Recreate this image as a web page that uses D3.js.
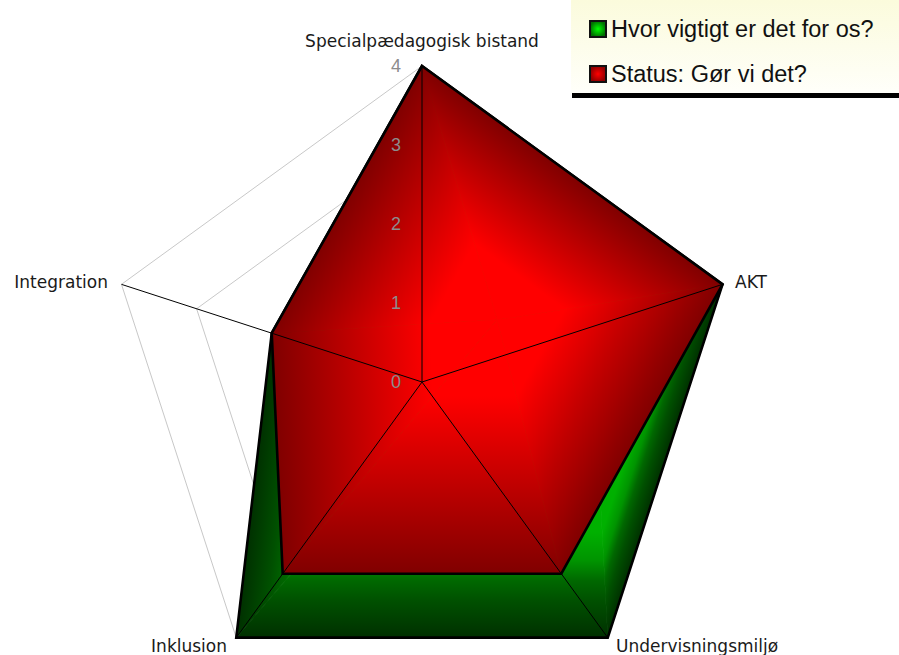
<!DOCTYPE html>
<head>
  <meta charset="utf-8">
  <script src="https://d3js.org/d3.v7.min.js"></script>
  <style>
    body { margin: 0; background: #fff; }
    .axis-label { font-family: Verdana, "DejaVu Sans", sans-serif; font-size: 17px; fill: #1a1a1a; }
    .tick-label { font-family: Arial, "Liberation Sans", sans-serif; font-size: 18px; fill: #8c8c8c; }
    .legend-text { font-family: Arial, "Liberation Sans", sans-serif; font-size: 23.5px; fill: #111; }
  </style>
</head>
<body>
  <svg id="chart"></svg>
  <script>
    var width = 899, height = 655;

    // chart data
    var axes = ["Specialpædagogisk bistand", "AKT", "Undervisningsmiljø", "Inklusion", "Integration"];
    var seriesNames = ["Hvor vigtigt er det for os?", "Status: Gør vi det?"];
    var importanceValues = [4, 4, 4, 4, 2];
    var statusValues = [4, 4, 3, 3, 2];
    var tickValues = [0, 1, 2, 3, 4];

    var cx = 422, cy = 382;
    var svg = d3.select("#chart").attr("width", width).attr("height", height);
    var defs = svg.append("defs");

    var r = d3.scaleLinear().domain([0, 4]).range([0, 316]);
    var angle = d3.scaleLinear().domain([0, axes.length]).range([0, 2 * Math.PI]);

    function pt(i, v) {
      var a = angle(i);
      return [cx + r(v) * Math.sin(a), cy - r(v) * Math.cos(a)];
    }

    // grid rings, light grey, behind the series
    var grid = svg.append("g");
    tickValues.filter(d => d > 0).forEach(function(t) {
      grid.append("polygon")
        .attr("points", axes.map((a, i) => pt(i, t).join(",")).join(" "))
        .attr("fill", "none")
        .attr("stroke", "#c8c8c8")
        .attr("stroke-width", 1);
    });

    // series styles: gradient centre (fraction of bbox) and stops from centre to edge
    var styles = [
      { id: "g", centre: [0.72, 0.29],
        stops: [[0, "#00b400"], [0.74, "#00b000"], [0.81, "#009400"], [0.86, "#006800"], [0.91, "#005000"], [1, "#003000"]] },
      { id: "r", centre: [0.5, 0.5],
        stops: [[0, "#ff0000"], [0.3, "#ff0000"], [1, "#800000"]] }
    ];

    // draw a polygon with a "path" gradient: one triangle per edge, graded from centre to edge
    function drawSeries(values, st) {
      var pts = values.map((v, i) => pt(i, v));
      var xs = pts.map(p => p[0]), ys = pts.map(p => p[1]);
      var x0 = d3.min(xs), x1 = d3.max(xs), y0 = d3.min(ys), y1 = d3.max(ys);
      var c = [x0 + st.centre[0] * (x1 - x0), y0 + st.centre[1] * (y1 - y0)];
      var g = svg.append("g");
      pts.forEach(function(A, i) {
        var B = pts[(i + 1) % pts.length];
        var dx = B[0] - A[0], dy = B[1] - A[1];
        var t = ((c[0] - A[0]) * dx + (c[1] - A[1]) * dy) / (dx * dx + dy * dy);
        var F = [A[0] + t * dx, A[1] + t * dy];
        var gid = "grad-" + st.id + i;
        var lg = defs.append("linearGradient").attr("id", gid)
          .attr("gradientUnits", "userSpaceOnUse")
          .attr("x1", c[0]).attr("y1", c[1]).attr("x2", F[0]).attr("y2", F[1]);
        st.stops.forEach(s => lg.append("stop").attr("offset", s[0]).attr("stop-color", s[1]));
        g.append("path")
          .attr("d", "M" + c + "L" + A + "L" + B + "Z")
          .attr("fill", "url(#" + gid + ")")
          .attr("stroke", "url(#" + gid + ")")
          .attr("stroke-width", 0.8);
      });
      g.append("polygon")
        .attr("points", pts.map(p => p.join(",")).join(" "))
        .attr("fill", "none")
        .attr("stroke", "#000")
        .attr("stroke-width", 2.6)
        .attr("stroke-linejoin", "miter");
    }

    drawSeries(importanceValues, styles[0]);
    drawSeries(statusValues, styles[1]);

    // spokes on top
    svg.append("g").selectAll("line")
      .data(axes).enter().append("line")
      .attr("x1", cx).attr("y1", cy)
      .attr("x2", (d, i) => pt(i, 4)[0])
      .attr("y2", (d, i) => pt(i, 4)[1])
      .attr("stroke", "#000")
      .attr("stroke-width", 1);

    // tick labels on the top axis
    svg.append("g").selectAll("text")
      .data(tickValues).enter().append("text")
      .attr("class", "tick-label")
      .attr("x", cx - 21)
      .attr("y", d => cy - r(d))
      .attr("dy", "0.36em")
      .attr("text-anchor", "end")
      .text(d => d);

    // axis labels
    var labelPos = [
      { x: cx, y: 47, anchor: "middle" },
      { x: 735, y: 288, anchor: "start" },
      { x: 616, y: 652, anchor: "start" },
      { x: 227, y: 652, anchor: "end" },
      { x: 108, y: 288, anchor: "end" }
    ];
    svg.append("g").selectAll("text")
      .data(axes).enter().append("text")
      .attr("class", "axis-label")
      .attr("x", (d, i) => labelPos[i].x)
      .attr("y", (d, i) => labelPos[i].y)
      .attr("text-anchor", (d, i) => labelPos[i].anchor)
      .text(d => d);

    // legend
    var lgBg = defs.append("linearGradient").attr("id", "legend-bg")
      .attr("x1", 0).attr("y1", 0).attr("x2", 0).attr("y2", 1);
    lgBg.append("stop").attr("offset", 0).attr("stop-color", "#fbfbdc");
    lgBg.append("stop").attr("offset", 1).attr("stop-color", "#fffffa");

    [["leg-g", "#00ff00", "#007000"], ["leg-r", "#ff0000", "#900000"]].forEach(function(c) {
      var rg = defs.append("radialGradient").attr("id", c[0]);
      rg.append("stop").attr("offset", 0).attr("stop-color", c[1]);
      rg.append("stop").attr("offset", 1).attr("stop-color", c[2]);
    });

    var legend = svg.append("g");
    legend.append("rect")
      .attr("x", 571).attr("y", 0).attr("width", 328).attr("height", 93)
      .attr("fill", "url(#legend-bg)");
    legend.append("line")
      .attr("x1", 572).attr("x2", 899).attr("y1", 95.5).attr("y2", 95.5)
      .attr("stroke", "#000").attr("stroke-width", 5);

    var items = legend.selectAll(".item")
      .data(seriesNames).enter().append("g")
      .attr("transform", (d, i) => "translate(590," + (21 + i * 45) + ")");
    items.append("rect")
      .attr("width", 16).attr("height", 16)
      .attr("fill", (d, i) => i === 0 ? "url(#leg-g)" : "url(#leg-r)")
      .attr("stroke", "#111").attr("stroke-width", 2);
    items.append("text")
      .attr("class", "legend-text")
      .attr("x", 21).attr("y", 16)
      .text(d => d);
  </script>
</body>
